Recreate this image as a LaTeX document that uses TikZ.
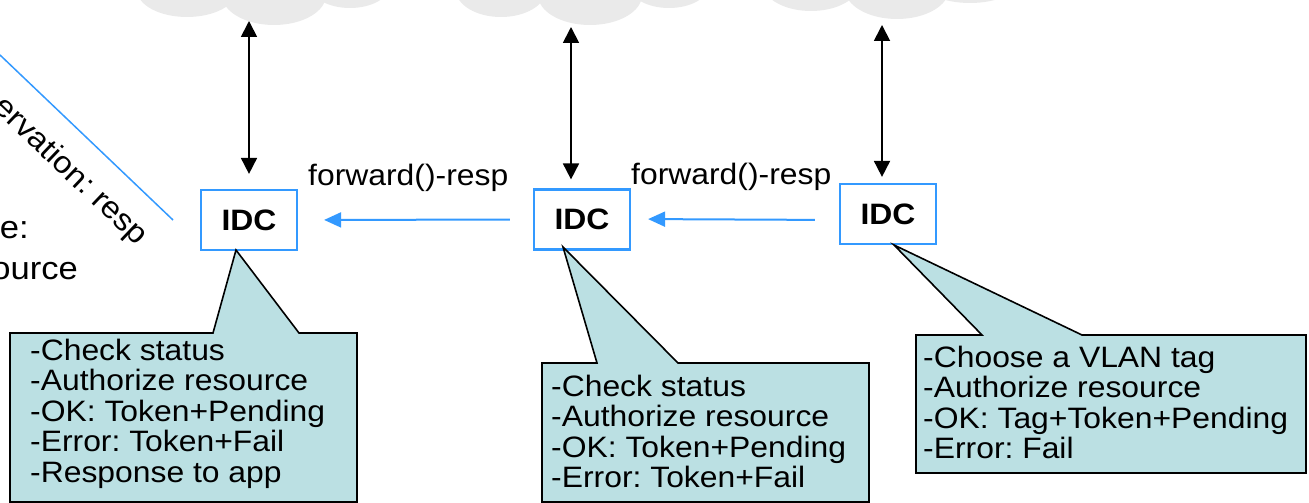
\documentclass[tikz,border=0pt]{standalone}
\usepackage{fontspec}
\setmainfont{Liberation Sans}[FakeStretch=1.08]
\usetikzlibrary{arrows.meta}
\definecolor{cloudgray}{HTML}{EAEAEA}
\definecolor{calloutfill}{HTML}{BBE0E3}
\definecolor{lineblue}{HTML}{3399FF}
\frenchspacing
\begin{document}
\begin{tikzpicture}[x=1pt,y=-1pt,
  cloudlobe/.style={fill=cloudgray,draw=none},
  idcbox/.style={draw=lineblue,line width=2.2pt,minimum width=96pt,minimum height=60pt,inner sep=0pt,
    font=\fontsize{29.5}{30.5}\selectfont\bfseries},
  txt/.style={inner sep=0pt,font=\fontsize{29.5}{30.5}\selectfont},
  bigtxt/.style={inner sep=0pt,font=\fontsize{32}{34}\selectfont},
  rottxt/.style={inner sep=0pt,font=\fontsize{30.5}{32}\selectfont},
  vlink/.style={line width=1.8pt,{Triangle[length=16pt,width=16pt]}-{Triangle[length=16pt,width=16pt]}},
  flow/.style={draw=lineblue,line width=2pt,-{Triangle[length=17pt,width=15pt]}},
  callout/.style={draw=black,line width=1.6pt,fill=calloutfill,line join=miter},
]
\useasboundingbox (0,0) rectangle (1309,503);
\clip (0,0) rectangle (1309,503);

% clouds (cut by the top edge)
\fill[cloudlobe] (187,-10) ellipse [x radius=50, y radius=27];
\fill[cloudlobe] (274,-5) ellipse [x radius=52, y radius=30];
\fill[cloudlobe] (350,-15) ellipse [x radius=40, y radius=23];
\fill[cloudlobe] (501,-10) ellipse [x radius=45, y radius=27];
\fill[cloudlobe] (590,-5) ellipse [x radius=52, y radius=30];
\fill[cloudlobe] (669,-15) ellipse [x radius=40, y radius=23];
\fill[cloudlobe] (811,-16) ellipse [x radius=48, y radius=27];
\fill[cloudlobe] (897,-11) ellipse [x radius=52, y radius=30];
\fill[cloudlobe] (970,-20) ellipse [x radius=50, y radius=23];

\coordinate (c1) at (249,21);
\coordinate (c2) at (571,27);
\coordinate (c3) at (882,25);

% IDC boxes
\node[idcbox] (idc1) at (249,220) {IDC};
\node[idcbox] (idc2) at (582,219.5) {IDC};
\node[idcbox] (idc3) at (888,214) {IDC};

% vertical links
\draw[vlink] (c1) -- ([yshift=15pt]idc1.north);
\draw[vlink] (c2) -- ([xshift=-11pt,yshift=9pt]idc2.north);
\draw[vlink] (c3) -- ([xshift=-6pt,yshift=6pt]idc3.north);

% horizontal flows
\draw[flow,shorten <=23pt,shorten >=26pt] (idc2.west) -- (idc1.east);
\draw[flow,shorten <=24pt,shorten >=17pt] ([yshift=-6pt]idc3.west) -- ([yshift=0.5pt]idc2.east);
\node[txt,anchor=base west] (l1) at (308,185) {forward()-resp};
\node[txt,anchor=base west] (l2) at (631,184) {forward()-resp};

% left, cut-off part
\coordinate (d0) at (0,55);
\coordinate (d1) at (173,220);
\draw[lineblue,line width=1.5pt] (d0) -- (d1);
\node[rottxt,rotate=-43.6] (rot) at (70,172) {ervation: resp};
\node[bigtxt,anchor=base east] (le) at (29,238) {e:};
\node[bigtxt,anchor=base east] (lo) at (78,279) {ource};

% callouts
\draw[callout] (10,333) -- (213,333) -- (236,250) -- (299,333) -- (357,333) -- (357,502) -- (10,502) -- cycle;
\draw[callout] (542,363) -- (597,363) -- (563,247) -- (678,363) -- (869,363) -- (869,502) -- (542,502) -- cycle;
\draw[callout] (916,335) -- (982,335) -- (894,245) -- (1082,335) -- (1306,335) -- (1306,473) -- (916,473) -- cycle;

\node[txt,anchor=base west] (t1) at (30,360) {\begin{tabular}[t]{@{}l@{}}-Check status\\-Authorize resource\\-OK: Token+Pending\\-Error: Token+Fail\\-Response to app\end{tabular}};
\node[txt,anchor=base west] (t2) at (551,396) {\begin{tabular}[t]{@{}l@{}}-Check status\\-Authorize resource\\-OK: Token+Pending\\-Error: Token+Fail\end{tabular}};
\node[txt,anchor=base west] (t3) at (923,367) {\begin{tabular}[t]{@{}l@{}}-Choose a VLAN tag\\-Authorize resource\\-OK: Tag+Token+Pending\\-Error: Fail\end{tabular}};
\end{tikzpicture}
\end{document}
